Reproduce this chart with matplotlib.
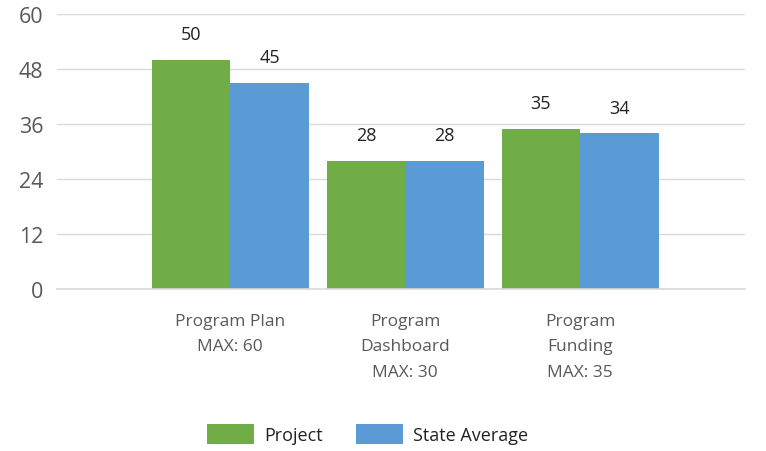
import matplotlib.pyplot as plt
import numpy as np

plt.rcParams['font.family'] = ['Open Sans', 'DejaVu Sans']

categories = ['Program Plan\nMAX: 60', 'Program\nDashboard\nMAX: 30', 'Program\nFunding\nMAX: 35']
project = [50, 28, 35]
state_avg = [45, 28, 34]
y_ticks = [0, 12, 24, 36, 48, 60]

green = '#70AD47'
blue = '#5B9BD5'

fig = plt.figure(figsize=(7.66, 4.52), dpi=100)
ax = fig.add_axes([0.0744, 0.3584, 0.898, 0.6084])

x = np.arange(len(categories))
w = 0.45
b1 = ax.bar(x - w / 2, project, w, color=green, label='Project', zorder=3)
b2 = ax.bar(x + w / 2, state_avg, w, color=blue, label='State Average', zorder=3)

for bars in (b1, b2):
    for r in bars:
        ax.annotate(str(int(r.get_height())), (r.get_x() + r.get_width() / 2, r.get_height()),
                    xytext=(0, 12), textcoords='offset points', ha='center', va='bottom',
                    fontsize=13, color='#222222')

ax.set_ylim(0, 60)
ax.set_xlim(-0.99, 2.94)
ax.set_yticks(y_ticks)
ax.set_xticks(x)
ax.set_xticklabels(categories, fontsize=12.5, color='#595959', linespacing=1.8)
ax.tick_params(axis='y', labelsize=15.5, colors='#595959', length=0, pad=10)
ax.tick_params(axis='x', length=0, pad=17)
ax.grid(axis='y', color='#d9d9d9', linewidth=1, zorder=0)
ax.axhline(0, color='#d9d9d9', linewidth=1.2, clip_on=False, zorder=4)
for s in ax.spines.values():
    s.set_visible(False)

fig.legend(loc='center', bbox_to_anchor=(0.48, 0.038), ncol=2, frameon=False,
           fontsize=13, handlelength=2.6, handleheight=1.3, columnspacing=1.8,
           handletextpad=0.6, labelcolor='#222222')

plt.savefig('out.png')
